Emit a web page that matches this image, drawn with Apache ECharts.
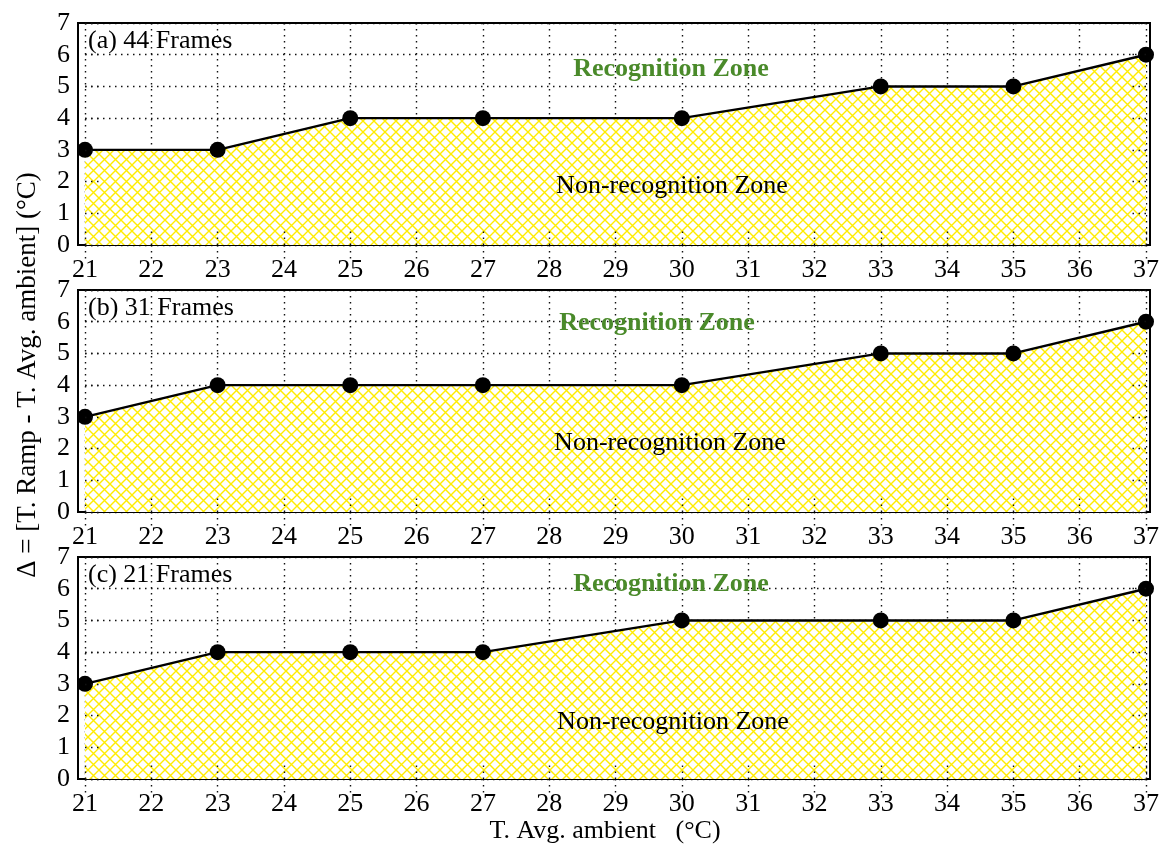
<!DOCTYPE html>
<html>
<head>
<meta charset="utf-8">
<script src="https://cdn.jsdelivr.net/npm/echarts@6/dist/echarts.min.js"></script>
<style>
  html, body { margin: 0; padding: 0; background: #fff; }
  #chart { width: 1163px; height: 846px; }
</style>
</head>
<body>
<div id="chart"></div>
<script>
// Threshold delta between ramp and ambient temperature, for three frame counts
const panelTitles = ['(a) 44 Frames', '(b) 31 Frames', '(c) 21 Frames'];
const ambientA = [21, 23, 25, 27, 30, 33, 35, 37];
const deltaA   = [3, 3, 4, 4, 4, 5, 5, 6];
const ambientB = [21, 23, 25, 27, 30, 33, 35, 37];
const deltaB   = [3, 4, 4, 4, 4, 5, 5, 6];
const ambientC = [21, 23, 25, 27, 30, 33, 35, 37];
const deltaC   = [3, 4, 4, 4, 5, 5, 5, 6];
const xRange = [21, 37];
const yRange = [0, 7];
const upperZoneText = 'Recognition Zone';
const lowerZoneText = 'Non-recognition Zone';
const yTitle = 'Δ = [T. Ramp - T. Avg. ambient] (°C)';
const xTitle = 'T. Avg. ambient   (°C)';

const panels = [
  { x: ambientA, y: deltaA },
  { x: ambientB, y: deltaB },
  { x: ambientC, y: deltaC }
];

// layout
const FONT = "'Liberation Serif', 'DejaVu Serif', serif";
const FS = 26;
const gridTops = [23, 290, 557];
const gridH = 222;
const gridLeft = 85, gridRight = 1146;
const frameLeft = 78, frameRight = 1150;
const upperPos = [[671, 69], [657, 323], [671, 584]];
const lowerPos = [[672, 186], [670, 443], [673, 722]];

// yellow cross-hatch used to fill below each curve
function hatchPattern() {
  const s = 11;
  const c = document.createElement('canvas');
  c.width = s; c.height = s;
  const g = c.getContext('2d');
  g.fillStyle = '#ffffff';
  g.fillRect(0, 0, s, s);
  g.strokeStyle = '#ffec00';
  g.lineWidth = 1.4;
  g.beginPath();
  g.moveTo(-1, -1); g.lineTo(s + 1, s + 1);
  g.moveTo(-1, s + 1); g.lineTo(s + 1, -1);
  g.stroke();
  return c;
}
const hatch = hatchPattern();

const dotted = { color: '#111', width: 1.4, type: [1.5, 4.5] };

const grids = [], xAxes = [], yAxes = [], series = [], graphics = [];

panels.forEach((p, i) => {
  grids.push({
    left: gridLeft, width: gridRight - gridLeft,
    top: gridTops[i], height: gridH,
    containLabel: false
  });
  // bottom axis: labels and inward ticks drawn above the fill
  xAxes.push({
    gridIndex: i, type: 'value', position: 'bottom',
    min: xRange[0], max: xRange[1], interval: 1, z: 5,
    axisLine: { show: false },
    axisTick: { show: true, inside: true, length: 16, lineStyle: dotted },
    axisLabel: { show: true, color: '#000', fontFamily: FONT, fontSize: FS, margin: 12 },
    splitLine: { show: false }
  });
  // top axis: vertical grid lines behind the fill, plus mirror ticks
  xAxes.push({
    gridIndex: i, type: 'value', position: 'top',
    min: xRange[0], max: xRange[1], interval: 1, z: 0,
    axisLine: { show: false },
    axisTick: { show: true, inside: true, length: 16, lineStyle: dotted },
    axisLabel: { show: false },
    splitLine: { show: true, lineStyle: dotted }
  });
  // left axis: labels and inward ticks
  yAxes.push({
    gridIndex: i, type: 'value', position: 'left',
    min: yRange[0], max: yRange[1], interval: 1, z: 5,
    axisLine: { show: false },
    axisTick: { show: true, inside: true, length: 16, lineStyle: dotted },
    axisLabel: { show: true, color: '#000', fontFamily: FONT, fontSize: FS, margin: 15 },
    splitLine: { show: false }
  });
  // right axis: mirror ticks
  yAxes.push({
    gridIndex: i, type: 'value', position: 'right',
    min: yRange[0], max: yRange[1], interval: 1, z: 5,
    axisLine: { show: false },
    axisTick: { show: true, inside: true, length: 16, lineStyle: dotted },
    axisLabel: { show: false },
    splitLine: { show: false }
  });
  // horizontal grid lines behind the fill
  yAxes.push({
    gridIndex: i, type: 'value', position: 'left',
    min: yRange[0], max: yRange[1], interval: 1, z: 0,
    axisLine: { show: false },
    axisTick: { show: false },
    axisLabel: { show: false },
    splitLine: { show: true, lineStyle: dotted }
  });

  series.push({
    type: 'line',
    xAxisIndex: 2 * i,
    yAxisIndex: 3 * i,
    data: p.x.map((v, k) => [v, p.y[k]]),
    symbol: 'circle',
    symbolSize: 16,
    clip: false,
    z: 2,
    itemStyle: { color: '#000' },
    lineStyle: { color: '#000', width: 2.4 },
    areaStyle: { color: { image: hatch, repeat: 'repeat' }, opacity: 1, origin: 'start' },
    emphasis: { disabled: true }
  });

  // panel frame
  graphics.push({
    type: 'rect', z: 1,
    shape: { x: frameLeft, y: gridTops[i], width: frameRight - frameLeft, height: gridH },
    style: { fill: null, stroke: '#000', lineWidth: 2 }
  });
  // panel caption
  graphics.push({
    type: 'text', z: 10,
    x: 88, y: gridTops[i] + 18,
    style: { text: panelTitles[i], fill: '#000', font: FS + 'px ' + FONT, textVerticalAlign: 'middle' }
  });
  graphics.push({
    type: 'text', z: 10,
    x: upperPos[i][0], y: upperPos[i][1],
    style: { text: upperZoneText, fill: '#4a8a2a', font: 'bold ' + FS + 'px ' + FONT, textAlign: 'center', textVerticalAlign: 'middle' }
  });
  graphics.push({
    type: 'text', z: 10,
    x: lowerPos[i][0], y: lowerPos[i][1],
    style: { text: lowerZoneText, fill: '#000', font: FS + 'px ' + FONT, textAlign: 'center', textVerticalAlign: 'middle' }
  });
});

// shared axis titles
graphics.push({
  type: 'text', z: 10,
  x: 605, y: 831,
  style: { text: xTitle, fill: '#000', font: FS + 'px ' + FONT, textAlign: 'center', textVerticalAlign: 'middle' }
});
graphics.push({
  type: 'text', z: 10,
  x: 28, y: 375, rotation: Math.PI / 2,
  style: { text: yTitle, fill: '#000', font: '27px ' + FONT, textAlign: 'center', textVerticalAlign: 'middle' }
});

const chart = echarts.init(document.getElementById('chart'), null, { renderer: 'canvas' });
chart.setOption({
  animation: false,
  backgroundColor: '#fff',
  grid: grids,
  xAxis: xAxes,
  yAxis: yAxes,
  series: series,
  graphic: graphics
});
</script>
</body>
</html>
